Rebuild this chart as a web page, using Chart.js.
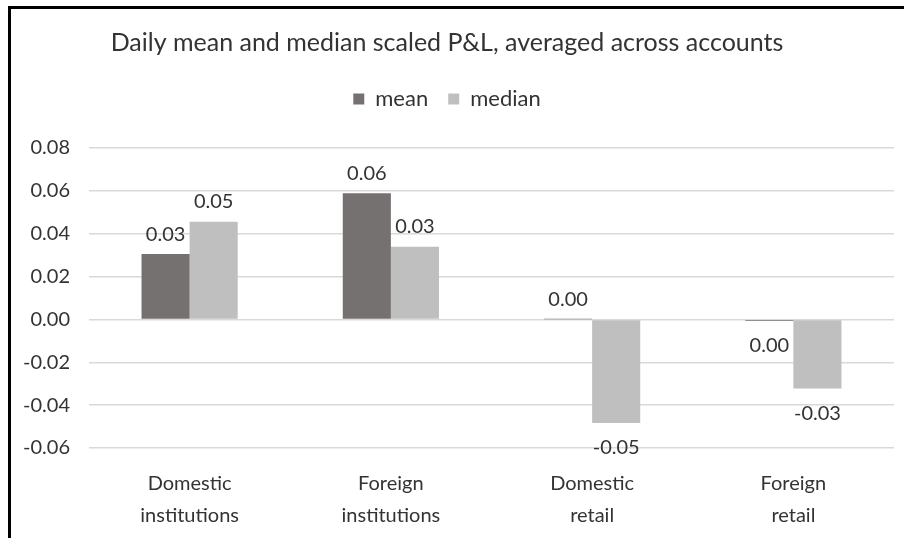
<!DOCTYPE html>
<html>
<head>
<meta charset="utf-8">
<script src="https://cdn.jsdelivr.net/npm/chart.js@4"></script>
<style>
  html, body { margin: 0; padding: 0; background: #fff; }
  #wrap { position: relative; width: 904px; height: 538px; overflow: hidden; }
  #frame { position: absolute; left: 8px; top: 6px; width: 900px; height: 540px;
           border-left: 3px solid #000; border-top: 3px solid #000; box-sizing: border-box; pointer-events: none; }
  canvas { position: absolute; left: 0; top: 0; }
</style>
</head>
<body>
<div id="wrap">
  <canvas id="c" width="904" height="538"></canvas>
  <div id="frame"></div>
</div>
<script>
// Account groups along the x axis (two-line labels)
const categories = [
  ["Domestic", "institutions"],
  ["Foreign", "institutions"],
  ["Domestic", "retail"],
  ["Foreign", "retail"]
];
// Daily scaled P&L per group
const meanValues   = [0.0305, 0.0589, 0.0001, -0.0007];
const medianValues = [0.0456, 0.0339, -0.0483, -0.0322];
// Value axis
const yMin = -0.06, yMax = 0.08, yStep = 0.02;

const textColor = '#333333';
const fontFamily = 'Lato, "Open Sans", sans-serif';

// Two-decimal text; tiny negatives print as 0.00 rather than -0.00
function fmt(v) {
  const s = v.toFixed(2);
  return Number(s) === 0 ? (0).toFixed(2) : s;
}

// Writes each bar's value just beyond its end, above for gains and below for losses
const barValueLabels = {
  id: 'barValueLabels',
  afterDatasetsDraw(chart) {
    const ctx = chart.ctx;
    ctx.save();
    ctx.font = '20px ' + fontFamily;
    ctx.fillStyle = textColor;
    ctx.textAlign = 'center';
    ctx.textBaseline = 'middle';
    chart.data.datasets.forEach((ds, di) => {
      const meta = chart.getDatasetMeta(di);
      meta.data.forEach((bar, i) => {
        const v = ds.data[i];
        const y = v >= 0 ? bar.y - 20 : bar.y + 25;
        ctx.fillText(fmt(v), bar.x, y);
      });
    });
    ctx.restore();
  }
};

// Leaves extra room between the legend row and the plot
const legendGap = {
  id: 'legendGap',
  afterInit(chart) {
    const legend = chart.legend;
    if (!legend) return;
    const fit = legend.fit;
    legend.fit = function () {
      fit.call(this);
      this.height += 28;
    };
  }
};

new Chart(document.getElementById('c'), {
  type: 'bar',
  data: {
    labels: categories,
    datasets: [
      { label: 'mean', data: meanValues, backgroundColor: '#767171',
        categoryPercentage: 0.478, barPercentage: 1.0 },
      { label: 'median', data: medianValues, backgroundColor: '#BFBFBF',
        categoryPercentage: 0.478, barPercentage: 1.0 }
    ]
  },
  options: {
    responsive: false,
    animation: false,
    devicePixelRatio: 1,
    layout: { padding: { left: 0, right: 10, top: 0, bottom: 0 } },
    plugins: {
      title: {
        display: true,
        text: 'Daily mean and median scaled P&L, averaged across accounts',
        color: textColor,
        font: { family: fontFamily, size: 25, weight: 'normal', lineHeight: 1.2 },
        padding: { top: 28, bottom: 10 }
      },
      legend: {
        display: true,
        position: 'top',
        labels: {
          color: textColor,
          font: { family: fontFamily, size: 22 },
          boxWidth: 11,
          boxHeight: 11,
          padding: 20
        }
      },
      tooltip: { enabled: false }
    },
    scales: {
      x: {
        grid: { display: false },
        border: { display: false },
        afterFit(scale) { scale.height = 90; },
        ticks: {
          color: textColor,
          font: { family: fontFamily, size: 20, lineHeight: 1.6 },
          padding: 12,
          maxRotation: 0
        }
      },
      y: {
        min: yMin,
        max: yMax,
        afterFit(scale) { scale.width = 89; },
        grid: { color: '#D9D9D9', lineWidth: 1.5, drawTicks: false },
        border: { display: false },
        ticks: {
          stepSize: yStep,
          color: textColor,
          font: { family: fontFamily, size: 20 },
          padding: 19,
          callback: v => Number(v).toFixed(2)
        }
      }
    }
  },
  plugins: [legendGap, barValueLabels]
});
</script>
</body>
</html>
